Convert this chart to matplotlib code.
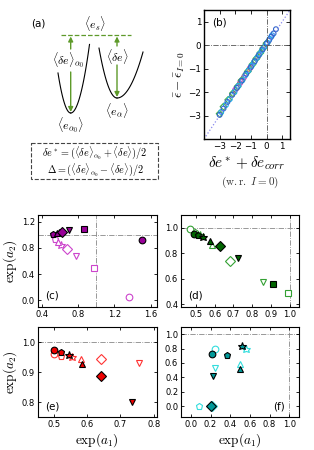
import numpy as np
import matplotlib
matplotlib.use("Agg")
import matplotlib.pyplot as plt
from matplotlib.patches import Rectangle

plt.rcParams['mathtext.fontset'] = 'cm'
plt.rcParams['font.family'] = ['DejaVu Sans']
plt.rcParams['xtick.direction'] = 'in'
plt.rcParams['ytick.direction'] = 'in'
plt.rcParams['xtick.top'] = True
plt.rcParams['ytick.right'] = True

# ---------------- data ----------------
# panel (b): scatter groups along the diagonal
b_blue_x = [-3.0, -2.75, -2.5, -2.2, -1.9, -1.6, -1.3, -1.0, -0.75, -0.5, -0.25, 0.0, 0.15, 0.3, 0.45, 0.6]
b_blue_y = [-2.97, -2.7, -2.42, -2.12, -1.82, -1.52, -1.22, -0.93, -0.68, -0.43, -0.18, 0.07, 0.2, 0.36, 0.5, 0.68]
b_cyan_x = [-2.9, -2.6, -2.35, -2.05, -1.8, -1.55, -1.35, -1.15, -0.95, -0.8, -0.6, -0.45, -0.3, -0.15, 0.05, 0.2, 0.35]
b_cyan_y = [-2.85, -2.55, -2.3, -2.0, -1.74, -1.5, -1.28, -1.08, -0.88, -0.72, -0.53, -0.38, -0.23, -0.08, 0.1, 0.27, 0.42]
b_green_x = [-3.0, -2.75, -2.45, -2.15, -1.85, -1.6, -1.2, -0.9, -0.65, -0.4, -0.2, 0.0]
b_green_y = [-2.92, -2.62, -2.33, -2.05, -1.76, -1.5, -1.12, -0.82, -0.57, -0.33, -0.12, 0.08]
b_olive_x = [-2.2, -1.9, -1.65, -1.4, -1.1, -0.8, -0.55, -0.3]
b_olive_y = [-2.1, -1.82, -1.55, -1.3, -1.02, -0.72, -0.48, -0.22]
b_mag_x = [-2.0, -1.7, -1.45, -1.05]
b_mag_y = [-1.9, -1.62, -1.38, -0.97]

# panels (c)-(f): exp(a1), exp(a2) per marker family (filled / open)
markers = ['o', 'p', '*', '^', 'D', 'v', 's']

c_fill_x = [1.50, 0.52, 0.59, 0.56, 0.625, 0.70, 0.865]
c_fill_y = [0.92, 1.012, 1.03, 1.02, 1.047, 1.073, 1.083]
c_open_x = [1.36, 0.54, 0.61, 0.58, 0.68, 0.775, 0.975]
c_open_y = [0.046, 0.94, 0.85, 0.885, 0.78, 0.68, 0.49]

d_fill_x = [0.49, 0.512, 0.537, 0.575, 0.63, 0.726, 0.91]
d_fill_y = [0.953, 0.94, 0.925, 0.894, 0.855, 0.764, 0.56]
d_open_x = [0.468, 0.496, 0.52, 0.585, 0.68, 0.858, 0.99]
d_open_y = [0.99, 0.97, 0.945, 0.868, 0.743, 0.574, 0.49]

e_fill_x = [0.50, 0.52, 0.545, 0.585, 0.64, 0.735, np.nan]
e_fill_y = [0.975, 0.967, 0.958, 0.928, 0.887, 0.80, np.nan]
e_open_x = [0.50, 0.52, 0.553, 0.58, 0.64, 0.755, np.nan]
e_open_y = [0.96, 0.952, 0.95, 0.943, 0.942, 0.93, np.nan]

f_fill_x = [0.22, 0.37, 0.52, 0.50, 0.20, 0.23, np.nan]
f_fill_y = [0.73, 0.71, 0.83, 0.52, 0.0, 0.42, np.nan]
f_open_x = [0.25, 0.08, 0.56, 0.50, 0.22, 0.25, np.nan]
f_open_y = [0.79, 0.0, 0.79, 0.58, 0.0, 0.53, np.nan]

W, H = 314, 450
fig = plt.figure(figsize=(W / 100, H / 100), dpi=100)


def px_axes(l, t, r, b):
    return fig.add_axes([l / W, 1 - b / H, (r - l) / W, (b - t) / H])


# ---------------- panel (a): schematic ----------------
axa = px_axes(0, 0, 165, 185)
axa.set_xlim(0, 165)
axa.set_ylim(185, 0)
axa.axis('off')
green = '#5e9a2a'
axa.text(38, 24, '(a)', fontsize=7.5, ha='center', va='center')
axa.text(95, 24, r'$\langle e_s\rangle$', fontsize=8.5, ha='center', va='center')
axa.plot([61, 131], [34.5, 34.5], ls='--', color=green, lw=0.9)

# potential wells (asymmetric parabolas)
well_centers = [70.7, 117.0]
well_minima = [113.0, 98.0]
well_left = [(58.0, 0.248), (99.0, 0.154)]
well_right = [(89.5, 0.194), (143.0, 0.068)]
for xc, ym, (xl, kl), (xr, kr) in zip(well_centers, well_minima, well_left, well_right):
    xs1 = np.linspace(xl, xc, 40)
    xs2 = np.linspace(xc, xr, 40)
    axa.plot(xs1, ym - kl * (xs1 - xc) ** 2, color='k', lw=0.8)
    axa.plot(xs2, ym - kr * (xs2 - xc) ** 2, color='k', lw=0.8)

arr = dict(arrowstyle='-|>', color=green, lw=1.0, mutation_scale=7, shrinkA=0, shrinkB=0)
axa.annotate('', xy=(70.7, 36.5), xytext=(70.7, 49), arrowprops=arr)
axa.annotate('', xy=(70.7, 112), xytext=(70.7, 72), arrowprops=arr)
axa.annotate('', xy=(117, 36.5), xytext=(117, 46), arrowprops=arr)
axa.annotate('', xy=(117, 97), xytext=(117, 65), arrowprops=arr)
axa.text(68, 60, r'$\langle\delta e\rangle_{\alpha_0}$', fontsize=8.5, ha='center', va='center')
axa.text(70, 125, r'$\langle e_{\alpha_0}\rangle$', fontsize=8.5, ha='center', va='center')
axa.text(117, 57, r'$\langle\delta e\rangle$', fontsize=8.5, ha='center', va='center')
axa.text(117, 111, r'$\langle e_{\alpha}\rangle$', fontsize=8.5, ha='center', va='center')
axa.add_patch(Rectangle((31, 143), 127, 35.5, fill=False, ls='--', lw=0.8, ec='#444444'))
box_text = (r'$\delta e^* = (\langle\delta e\rangle_{\alpha_0} + \langle\delta e\rangle)/2$' + '\n' +
            r'$\Delta = (\langle\delta e\rangle_{\alpha_0} - \langle\delta e\rangle)/2$')
axa.text(95, 161, box_text, fontsize=7.3, ha='center', va='center', multialignment='center',
         linespacing=1.0)

# ---------------- panel (b) ----------------
axb = px_axes(204, 10, 290, 139)
axb.set_xlim(-4, 1.5)
axb.set_ylim(-4, 1.5)
axb.plot([-4, 1.5], [-4, 1.5], ls=':', color='#8888ee', lw=0.9)
axb.axhline(0, ls='-.', color='#555555', lw=0.6)
axb.axvline(0, ls='-.', color='#555555', lw=0.6)
mk = dict(facecolors='none', s=12, linewidths=0.8)
axb.scatter(b_olive_x, b_olive_y, edgecolors='#b8b840', marker='o', **mk)
axb.scatter(b_mag_x, b_mag_y, edgecolors='#cc33cc', marker='o', **mk)
axb.scatter(b_green_x, b_green_y, edgecolors='#44b044', marker='D', **mk)
axb.scatter(b_cyan_x, b_cyan_y, edgecolors='#22aaee', marker='o', **mk)
axb.scatter(b_blue_x, b_blue_y, edgecolors='#3366cc', marker='o', **mk)
axb.set_xticks([-3, -2, -1, 0, 1])
axb.set_yticks([-3, -2, -1, 0, 1])
axb.set_xticklabels(['\u22123', '\u22122', '\u22121', '0', '1'])
axb.set_yticklabels(['\u22123', '\u22122', '\u22121', '0', '1'])
axb.tick_params(labelsize=6.3, length=3, width=0.6, pad=2)
for s in axb.spines.values():
    s.set_linewidth(1.0)
axb.text(0.1, 0.9, '(b)', transform=axb.transAxes, fontsize=7.5, ha='left', va='center')
axb.set_ylabel(r'$\bar{\epsilon}-\bar{\epsilon}_{I=0}$', fontsize=9.5, labelpad=1)
fig.text(247 / W, 1 - 163 / H, r'$\delta e^*+\delta e_{corr}$', fontsize=11, ha='center', va='center')
fig.text(250 / W, 1 - 182 / H, r'$\mathrm{(w.r.}\ I=0\mathrm{)}$', fontsize=8, ha='center', va='center',
         color='#333333')


# ---------------- panels (c)-(f) ----------------
def panel(ax, fx, fy, ox, oy, fcol, ocol):
    ax.axhline(1.0, ls='-.', color='#888888', lw=0.6, zorder=0)
    ax.axvline(1.0, ls='-.', color='#888888', lw=0.6, zorder=0)
    for m, x1, y1, x2, y2 in zip(markers, fx, fy, ox, oy):
        sz = 4.8 if m != '*' else 6.2
        ax.plot([x2], [y2], marker=m, ms=sz, mfc='white', mec=ocol, mew=0.8, ls='none', zorder=3)
        ax.plot([x1], [y1], marker=m, ms=sz, mfc=fcol, mec='k', mew=0.8, ls='none', zorder=4)
    ax.tick_params(labelsize=6, length=2.5, width=0.6, pad=2)
    for s in ax.spines.values():
        s.set_linewidth(0.8)


axc = px_axes(37.5, 215, 157, 307)
panel(axc, c_fill_x, c_fill_y, c_open_x, c_open_y, '#990099', '#cc44cc')
axc.set_xlim(0.35, 1.67)
axc.set_ylim(-0.1, 1.3)
axc.set_xticks([0.4, 0.8, 1.2, 1.6])
axc.set_yticks([0.0, 0.4, 0.8, 1.2])
axc.set_ylabel(r'$\exp(a_2)$', fontsize=9.5, labelpad=2)
axc.text(0.06, 0.12, '(c)', transform=axc.transAxes, fontsize=7.5, va='center')

axd = px_axes(181, 215, 299, 307)
panel(axd, d_fill_x, d_fill_y, d_open_x, d_open_y, '#006400', '#33a033')
axd.set_xlim(0.42, 1.05)
axd.set_ylim(0.38, 1.1)
axd.set_xticks([0.5, 0.6, 0.7, 0.8, 0.9, 1.0])
axd.set_yticks([0.4, 0.6, 0.8, 1.0])
axd.text(0.06, 0.12, '(d)', transform=axd.transAxes, fontsize=7.5, va='center')

axe = px_axes(37.5, 327, 157, 417)
panel(axe, e_fill_x, e_fill_y, e_open_x, e_open_y, '#ee0000', '#ff3333')
axe.set_xlim(0.45, 0.81)
axe.set_ylim(0.75, 1.05)
axe.set_xticks([0.5, 0.6, 0.7, 0.8])
axe.set_yticks([0.8, 0.9, 1.0])
axe.set_ylabel(r'$\exp(a_2)$', fontsize=9.5, labelpad=2)
axe.set_xlabel(r'$\exp(a_1)$', fontsize=9.5, labelpad=2)
axe.text(0.06, 0.12, '(e)', transform=axe.transAxes, fontsize=7.5, va='center')

axf = px_axes(181, 327, 299, 417)
panel(axf, f_fill_x, f_fill_y, f_open_x, f_open_y, '#009999', '#33dddd')
axf.set_xlim(-0.1, 1.1)
axf.set_ylim(-0.15, 1.1)
axf.set_xticks([0.0, 0.2, 0.4, 0.6, 0.8, 1.0])
axf.set_yticks([0.0, 0.2, 0.4, 0.6, 0.8, 1.0])
axf.set_xlabel(r'$\exp(a_1)$', fontsize=9.5, labelpad=2)
axf.text(0.78, 0.12, '(f)', transform=axf.transAxes, fontsize=7.5, va='center')

fig.savefig('out.png', dpi=100)
